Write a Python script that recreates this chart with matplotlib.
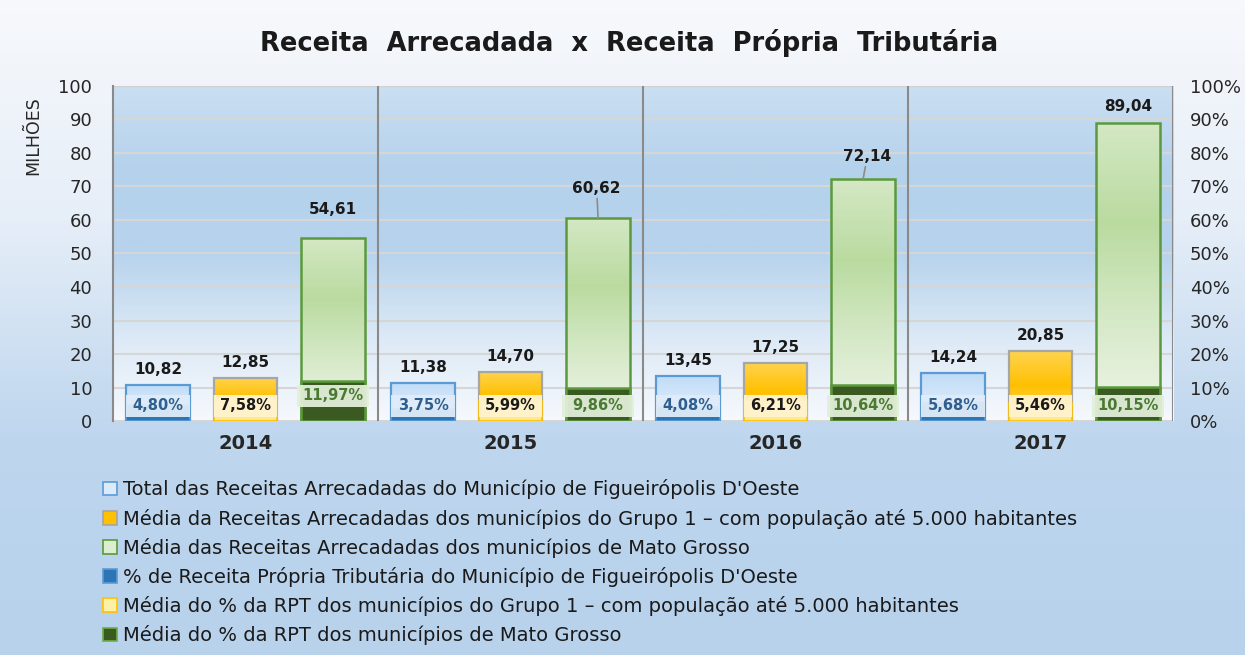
import numpy as np
import matplotlib.pyplot as plt
from matplotlib.patches import Patch
from matplotlib.colors import LinearSegmentedColormap

anos = ['2014', '2015', '2016', '2017']
receita_municipio = [10.82, 11.38, 13.45, 14.24]
receita_grupo1 = [12.85, 14.70, 17.25, 20.85]
receita_mt = [54.61, 60.62, 72.14, 89.04]
rpt_municipio = [4.80, 3.75, 4.08, 5.68]
rpt_grupo1 = [7.58, 5.99, 6.21, 5.46]
rpt_mt = [11.97, 9.86, 10.64, 10.15]

legendas = [
    "Total das Receitas Arrecadadas do Município de Figueirópolis D'Oeste",
    "Média da Receitas Arrecadadas dos municípios do Grupo 1 – com população até 5.000 habitantes",
    "Média das Receitas Arrecadadas dos municípios de Mato Grosso",
    "% de Receita Própria Tributária do Município de Figueirópolis D'Oeste",
    "Média do % da RPT dos municípios do Grupo 1 – com população até 5.000 habitantes",
    "Média do % da RPT dos municípios de Mato Grosso",
]

def fmt(v, pct=False):
    s = f"{v:.2f}".replace('.', ',')
    return s + '%' if pct else s

fig = plt.figure(figsize=(12.45, 6.55), dpi=100)

# fundo da figura em degradê
bg = fig.add_axes([0, 0, 1, 1], zorder=-10)
bg_cmap = LinearSegmentedColormap.from_list('bg', ['#f7f9fc', '#e6eef8', '#bed6ee', '#b8d2ec'])
bg.imshow(np.linspace(0, 1, 256).reshape(-1, 1), aspect='auto', cmap=bg_cmap,
          extent=[0, 1, 0, 1])
bg.axis('off')

ax = fig.add_axes([0.0908, 0.357, 0.8515, 0.512])
ax.set_xlim(-0.5, 3.5)
ax.set_ylim(0, 100)

# fundo da área de plotagem
pa_cmap = LinearSegmentedColormap.from_list('pa', ['#f6f9fd', '#dce9f6', '#b7d3ec', '#b5d2ec', '#cadff2'])
ax.imshow(np.linspace(0, 1, 256).reshape(-1, 1), aspect='auto', cmap=pa_cmap,
          extent=[-0.5, 3.5, 0, 100], origin='lower', zorder=0)

ax.set_yticks(range(0, 101, 10))
ax.yaxis.grid(True, color='#d6d6d6', lw=1.5, zorder=1)
ax.set_axisbelow(True)
for s in ['top', 'bottom', 'right']:
    ax.spines[s].set_visible(False)
ax.spines['left'].set_color('#8a8a8a')
ax.spines['left'].set_linewidth(1.5)
for xs in [0.5, 1.5, 2.5, 3.5]:
    ax.axvline(xs, color='#8a8a8a', lw=1.5, zorder=2)
ax.axhline(100, color='#d0d0d0', lw=1.5, zorder=1)

x = np.arange(len(anos))
off = 0.33
w = 0.24

def gradient_bars(bars, colors, edge, lw):
    cm = LinearSegmentedColormap.from_list('g', colors)
    for b in bars:
        b.set_facecolor('none')
        b.set_edgecolor(edge)
        b.set_linewidth(lw)
        x0, y0 = b.get_x(), b.get_y()
        im = ax.imshow(np.linspace(0, 1, 128).reshape(-1, 1), aspect='auto', cmap=cm,
                       extent=[x0, x0 + b.get_width(), y0, y0 + b.get_height()],
                       origin='lower', zorder=3)
        im.set_clip_path(b)

b1 = ax.bar(x - off, receita_municipio, w, zorder=4)
gradient_bars(b1, ['#eef6fe', '#d4e7fa', '#c0dcf7'], '#5b9bd5', 1.6)
b2 = ax.bar(x, receita_grupo1, w, zorder=4)
gradient_bars(b2, ['#ffe07a', '#ffc000', '#ffd34d'], '#a6a6a6', 1.6)
b3 = ax.bar(x + off, receita_mt, w, zorder=4)
gradient_bars(b3, ['#f0f6ea', '#d6e9c8', '#badba0', '#d4e8c4'], '#5b9a3c', 1.8)
ax.set_xlim(-0.5, 3.5)
ax.set_ylim(0, 100)

ax.set_xticks(x)
ax.set_xticklabels(anos, fontsize=14, fontweight='bold', color='#262626')
ax.tick_params(axis='x', length=0, pad=9)
ax.tick_params(axis='y', length=0, labelsize=13, colors='#262626', pad=15)
ax.set_ylabel('MILHÕES', fontsize=12.5, color='#262626')
ax.yaxis.set_label_coords(-0.067, 0.85)

ax2 = ax.twinx()
ax2.set_ylim(0, 100)
ax2.set_yticks(range(0, 101, 10))
ax2.set_yticklabels([f'{v}%' for v in range(0, 101, 10)])
ax2.tick_params(axis='y', length=0, labelsize=13, colors='#262626', pad=12)
for s in ax2.spines.values():
    s.set_visible(False)

ax2.bar(x - off, rpt_municipio, w, color='#2e75b6', edgecolor='#5b9bd5', lw=1.2, zorder=5)
ax2.bar(x, rpt_grupo1, w, color='#ffe98a', edgecolor='#ffc000', lw=1.2, zorder=5)
ax2.bar(x + off, rpt_mt, w, color='#3a5a22', edgecolor='#5b9a3c', lw=1.8, zorder=5)

# rótulos percentuais (caixa com a largura da barra)
estilos = [
    (rpt_municipio, -off, w, '#2f5f8f', '#e0ecf8'),
    (rpt_grupo1, 0, w, '#1a1a1a', '#fff3cf'),
    (rpt_mt, off, w + 0.03, '#4a7a32', '#e2efd9'),
]
for k, (vals, dx, bw, tc, fc) in enumerate(estilos):
    for i, v in enumerate(vals):
        yc = 7.6 if (k == 2 and i == 0) else 4.6
        ax2.bar(i + dx, 6.6, bw, bottom=yc - 3.3, color=fc, alpha=0.95, lw=0, zorder=6)
        ax2.text(i + dx, yc, fmt(v, True), ha='center', va='center', fontsize=10.5,
                 fontweight='bold', color=tc, zorder=7)

# rótulos de valores
for vals, dx in [(receita_municipio, -off), (receita_grupo1, 0)]:
    for i, v in enumerate(vals):
        ax2.annotate(fmt(v), (i + dx, v), xytext=(0, 6), textcoords='offset points',
                     ha='center', va='bottom', fontsize=11, fontweight='bold',
                     color='#1a1a1a', zorder=8)
desloc_mt = [(0, 15), (-1, 16), (3, 11), (0, 6)]
for i, v in enumerate(receita_mt):
    lider = i in (1, 2)
    ax2.annotate(fmt(v), (i + off, v), xytext=desloc_mt[i],
                 textcoords='offset points', ha='center', va='bottom', fontsize=11,
                 fontweight='bold', color='#1a1a1a', zorder=8,
                 arrowprops=dict(arrowstyle='-', color='#8c8c8c', lw=1.2,
                                 shrinkA=0, shrinkB=0) if lider else None)

fig.text(0.505, 0.935, 'Receita  Arrecadada  x  Receita  Própria  Tributária',
         ha='center', va='center', fontsize=18.5, fontweight='bold', color='#1a1a1a')

handles = [
    Patch(fc='#dcebfb', ec='#5b9bd5', lw=1.2),
    Patch(fc='#ffc000', ec='#a6a6a6', lw=1.2),
    Patch(fc='#dcedd0', ec='#5b9a3c', lw=1.2),
    Patch(fc='#2e75b6', ec='#5b9bd5', lw=1.2),
    Patch(fc='#fff0a8', ec='#ffc000', lw=1.2),
    Patch(fc='#3a5a22', ec='#70ad47', lw=1.2),
]
fig.legend(handles, legendas, loc='upper left', bbox_to_anchor=(0.083, 0.268),
           frameon=False, fontsize=14, handlelength=0.7, handleheight=0.7,
           handletextpad=0.3, labelspacing=0.47, borderpad=0, borderaxespad=0)
for t in fig.legends[0].get_texts():
    t.set_color('#1a1a1a')

fig.savefig('out.png', dpi=100)
